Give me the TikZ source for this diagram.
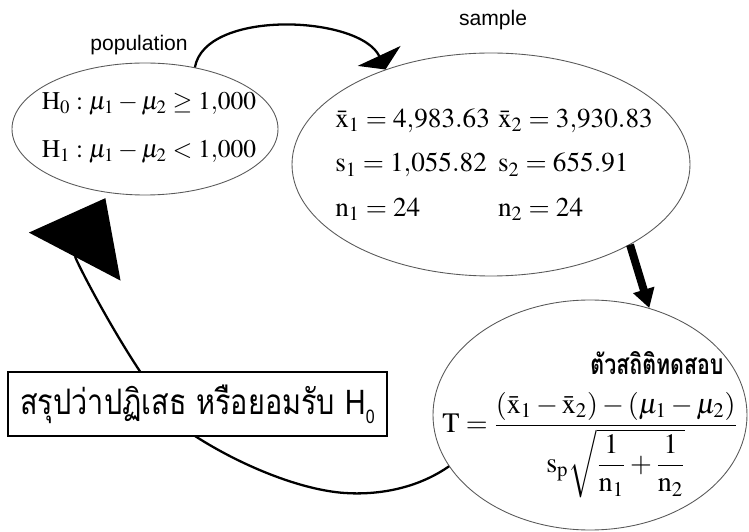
\documentclass[tikz,border=0pt]{standalone}
\usepackage{amsmath}
\usepackage{graphicx}
\usepackage{mathptmx}
\usepackage{fontspec}
\setmainfont{Liberation Serif}
\setsansfont{Liberation Sans}
\newfontfamily\thaifont[Script=Thai]{Loma}
\definecolor{rimgray}{gray}{0.35}
\usetikzlibrary{arrows.meta,shapes.geometric,positioning}

\begin{document}
\begin{tikzpicture}[
    blob/.style={ellipse,draw=rimgray,line width=0.5pt,inner sep=0pt},
    flow/.style={line width=1.3pt},
    tag/.style={font=\sffamily\fontsize{12}{14}\selectfont}]
        \useasboundingbox (0,0) rectangle (14.98,10.62);
        % the three stages
        \node[blob,minimum width=5.32cm,minimum height=2.64cm] (pop) at (2.90,8.04) {};
        \node[blob,minimum width=7.96cm,minimum height=4.46cm] (smp) at (9.82,7.33) {};
        \node[blob,minimum width=6.28cm,minimum height=4.60cm] (tst) at (11.80,2.32) {};
        \node[align=center,font=\fontsize{14.5}{27.5}\selectfont] (popx) at (2.98,8.06)
              {$\mathrm{H}_0:\mu_1-\mu_2\geq 1{,}000$\\ $\mathrm{H}_1:\mu_1-\mu_2<1{,}000$};
        \node[font=\fontsize{15.5}{25.5}\selectfont] (smpx) at (9.88,7.36)
              {\begin{tabular}{@{}l@{\hspace{0.3em}}l@{}}
               $\bar{\mathrm{x}}_1=4{,}983.63$ & $\bar{\mathrm{x}}_2=3{,}930.83$\\
               $\mathrm{s}_1=1{,}055.82$ & $\mathrm{s}_2=655.91$\\
               $\mathrm{n}_1=24$ & $\mathrm{n}_2=24$
               \end{tabular}};
        \node[font=\thaifont\bfseries\fontsize{16}{18}\selectfont,anchor=base] (ttl) at (13.14,3.12)
              {\scalebox{0.76}[1]{ตัวสถิติทดสอบ}};
        \node[font=\fontsize{16}{18}\selectfont,anchor=west,inner sep=0pt] (frm) at (8.84,1.72)
              {$\mathrm{T}=\dfrac{(\bar{\mathrm{x}}_1-\bar{\mathrm{x}}_2)-(\mu_1-\mu_2)}{\mathrm{s}_{\mathrm{p}}\sqrt{\dfrac{1}{\mathrm{n}_1}+\dfrac{1}{\mathrm{n}_2}}}$};
        \node[tag] (popl) at (2.78,9.72) {population};
        \node[tag] (smpl) at (9.86,10.22) {sample};
        % connectors
        \draw[flow,-{Triangle[length=0.30cm,width=0.94cm]}] (pop.51) to[out=80,in=115,looseness=0.8] (smp.138);
        \draw[line width=4.5pt,-{Triangle[length=0.38cm,width=0.42cm]}] (smp.-30) -- (tst.61.5);
        \draw[flow,-{Triangle[length=1.32cm,width=2.06cm]},shorten >=0.12cm] (tst.200)
              .. controls (8.30,0.82) and (7.50,0.72) .. (6.90,0.76)
              .. controls (6.00,0.82) and (4.80,1.32) .. (3.90,1.90)
              .. controls (3.00,2.48) and (1.48,5.46) .. (pop.240);
        \node[draw,fill=white,line width=0.6pt,minimum width=7.58cm,minimum height=1.28cm,
              font=\thaifont\fontsize{20}{22}\selectfont] (rule) at (3.95,2.54)
              {\scalebox{0.82}[1]{สรุปว่าปฏิเสธ หรือยอมรับ {\sffamily H\raisebox{-0.5ex}{\fontsize{11}{11}\selectfont 0}}}};
      \end{tikzpicture}
\end{document}
